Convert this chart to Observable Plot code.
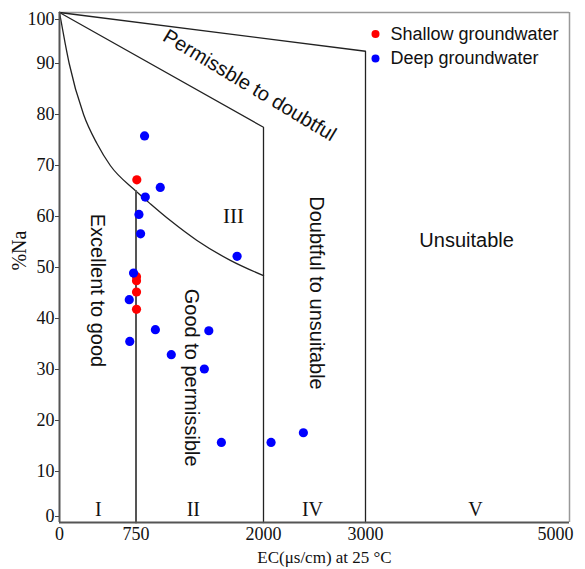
<!DOCTYPE html>
<html>
<head>
<meta charset="utf-8">
<script src="https://cdn.jsdelivr.net/npm/d3@7"></script>
<script src="https://cdn.jsdelivr.net/npm/@observablehq/plot@0.6"></script>
<style>
  html, body { margin: 0; padding: 0; background: #fff; }
</style>
</head>
<body>
<div id="chart"></div>
<script>
// ---- data ----
const shallowEC = [758, 755, 755, 755, 755];
const shallowNa = [67.2, 48.2, 47.4, 45.2, 41.8];

const deepEC = [834, 988, 841, 779, 795, 1741, 726, 684, 940, 1464, 689, 1096, 1420, 1587, 2074, 2391];
const deepNa = [75.8, 65.7, 63.8, 60.4, 56.6, 52.2, 48.9, 43.7, 37.8, 37.6, 35.5, 32.9, 30.1, 15.7, 15.7, 17.6];

// classification boundaries (EC, %Na)
const boundaryOuterEC = [0, 3000, 3000];
const boundaryOuterNa = [100, 92.4, 0];
const boundaryMidEC = [0, 2000, 2000];
const boundaryMidNa = [100, 77.5, 0];
const curveEC = [0, 56, 95, 236, 367, 498, 743, 890, 1087, 1348, 1675, 2000];
const curveNa = [100, 93.9, 90, 80, 74.3, 70, 65.1, 62.5, 59.2, 55.3, 51.4, 48.4];
const line750EC = [750, 750];
const line750Na = [65, 0];

const xTicks = [0, 750, 2000, 3000, 5000];
const yTicks = [0, 10, 20, 30, 40, 50, 60, 70, 80, 90, 100];

const zoneNumerals = ["I", "II", "IV", "V"];
const zoneNumeralEC = [381, 1312, 2480, 4079];
const seriesNames = ["Shallow groundwater", "Deep groundwater"];
const seriesColors = ["#ff0000", "#0000ff"];

// ---- build tables ----
const pts = (xs, ys) => xs.map((x, i) => ({x, y: ys[i]}));
const shallow = pts(shallowEC, shallowNa);
const deep = pts(deepEC, deepNa);

const SANS = "Liberation Sans, Arial, sans-serif";
const SERIF = "Liberation Serif, Times New Roman, serif";
const fmt = d => String(d);

const chart = Plot.plot({
  width: 585,
  height: 569,
  marginLeft: 59,
  marginRight: 16,
  marginTop: 12,
  marginBottom: 47,
  x: {domain: [0, 5000]},
  y: {domain: [0, 100]},
  style: {background: "#fff"},
  marks: [
    // frame
    Plot.ruleY([100], {stroke: "#999", strokeWidth: 1.5}),
    Plot.ruleX([5000], {stroke: "#999", strokeWidth: 1.5}),
    // boundaries
    Plot.line(pts(boundaryOuterEC, boundaryOuterNa), {x: "x", y: "y", stroke: "#222", strokeWidth: 1.3}),
    Plot.line(pts(boundaryMidEC, boundaryMidNa), {x: "x", y: "y", stroke: "#222", strokeWidth: 1.3}),
    Plot.line(pts(curveEC, curveNa), {x: "x", y: "y", stroke: "#222", strokeWidth: 1.3, curve: "monotone-x"}),
    Plot.line(pts(line750EC, line750Na), {x: "x", y: "y", stroke: "#555", strokeWidth: 2}),
    // axis lines
    Plot.ruleX([0], {stroke: "#555", strokeWidth: 2}),
    Plot.ruleY([0], {stroke: "#555", strokeWidth: 2}),
    // axes
    Plot.axisX(xTicks.filter(d => d !== 5000), {tickSize: 0, tickPadding: 5, tickFormat: fmt, fontFamily: SERIF, fontSize: 18, fill: "#111", label: null}),
    Plot.axisX([5000], {tickSize: 0, tickPadding: 5, tickFormat: fmt, fontFamily: SERIF, fontSize: 18, fill: "#111", label: null, textAnchor: "end", dx: 4}),
    Plot.axisY(yTicks.filter(d => d !== 0 && d !== 100), {tickSize: 4, tickPadding: 1, tickFormat: fmt, stroke: "#444", fontFamily: SERIF, fontSize: 18, fill: "#111", label: null}),
    Plot.axisY([100], {tickSize: 4, tickPadding: 1, tickFormat: fmt, stroke: "#444", fontFamily: SERIF, fontSize: 18, fill: "#111", label: null, dy: 7}),
    Plot.axisY([0], {tickSize: 4, tickPadding: 1, tickFormat: fmt, stroke: "#444", fontFamily: SERIF, fontSize: 18, fill: "#111", label: null, dy: -6}),
    // axis titles
    Plot.text(["EC(μs/cm) at 25 °C"], {x: 2598, y: 0, dy: 35, fontFamily: SERIF, fontSize: 17, fill: "#111"}),
    Plot.text(["%Na"], {frameAnchor: "left", y: 49.4, dx: -40, rotate: -90, fontFamily: SERIF, fontSize: 20, fill: "#111"}),
    // zone labels
    Plot.text(["Permissble to doubtful"], {x: 1864, y: 85.7, rotate: 31, fontFamily: SANS, fontSize: 20, fill: "#111"}),
    Plot.text(["Excellent to good"], {x: 370, y: 45.5, rotate: 90, fontFamily: SANS, fontSize: 20, fill: "#111"}),
    Plot.text(["Good to permissible"], {x: 1292, y: 28.4, rotate: 90, fontFamily: SANS, fontSize: 20, fill: "#111"}),
    Plot.text(["Doubtful to unsuitable"], {x: 2519, y: 45, rotate: 90, fontFamily: SANS, fontSize: 20, fill: "#111"}),
    Plot.text(["Unsuitable"], {x: 3991, y: 55.3, fontFamily: SANS, fontSize: 20, fill: "#111"}),
    Plot.text(["III"], {x: 1705, y: 60.1, fontFamily: SERIF, fontSize: 21, fill: "#111"}),
    Plot.text(zoneNumerals, {x: (d, i) => zoneNumeralEC[i], y: 2.6, fontFamily: SERIF, fontSize: 20, fill: "#111"}),
    // data points
    Plot.dot(shallow, {x: "x", y: "y", r: 4.6, fill: seriesColors[0], stroke: "none"}),
    Plot.dot(deep, {x: "x", y: "y", r: 4.6, fill: seriesColors[1], stroke: "none"}),
    // legend
    Plot.dot(seriesNames, {x: 3098, y: (d, i) => [95.8, 91.0][i], r: 4, fill: (d, i) => seriesColors[i], stroke: "none"}),
    Plot.text(seriesNames, {x: 3245, y: (d, i) => [95.8, 91.0][i], textAnchor: "start", fontFamily: SANS, fontSize: 18, fill: "#111"})
  ]
});

document.getElementById("chart").appendChild(chart);
</script>
</body>
</html>
